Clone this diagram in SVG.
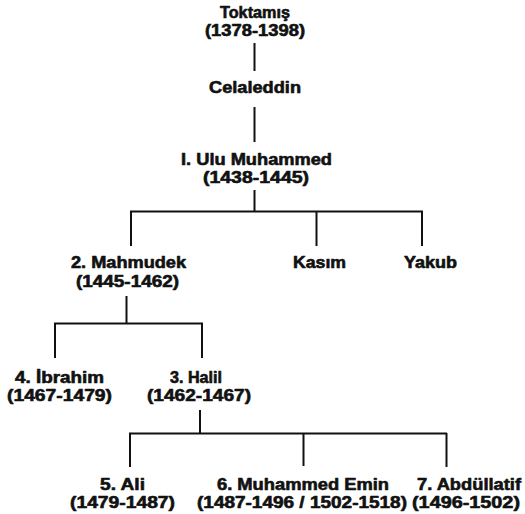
<svg xmlns="http://www.w3.org/2000/svg" width="525" height="514" viewBox="0 0 525 514">
<style>
text{font-family:"Liberation Sans",Arial,sans-serif;font-weight:bold;font-size:16px;fill:#111;stroke:#111;stroke-width:0.6;stroke-linejoin:round;text-anchor:middle}
.c line{stroke:#111;stroke-width:2}
</style>
<rect width="525" height="514" fill="#fff"/>
<g class="c" id="connectors">
<line x1="254.5" y1="43" x2="254.5" y2="71"/>
<line x1="254.5" y1="107" x2="254.5" y2="142"/>
<line x1="254.5" y1="190" x2="254.5" y2="211"/>
<line x1="130" y1="211.5" x2="423" y2="211.5"/>
<line x1="131" y1="211" x2="131" y2="246"/>
<line x1="316.5" y1="211" x2="316.5" y2="246"/>
<line x1="422" y1="211" x2="422" y2="246"/>
<line x1="126.5" y1="296" x2="126.5" y2="323"/>
<line x1="54" y1="323.5" x2="203" y2="323.5"/>
<line x1="55" y1="323" x2="55" y2="358"/>
<line x1="202" y1="323" x2="202" y2="358"/>
<line x1="200" y1="410" x2="200" y2="433"/>
<line x1="129" y1="433.5" x2="447" y2="433.5"/>
<line x1="130" y1="433" x2="130" y2="467"/>
<line x1="303.5" y1="434" x2="303.5" y2="466"/>
<line x1="446.5" y1="433" x2="446.5" y2="467"/>
</g>
<g id="toktamis"><text x="255" y="17.5" textLength="70" lengthAdjust="spacingAndGlyphs">Toktamış</text><text x="255" y="35.5" textLength="100" lengthAdjust="spacingAndGlyphs">(1378-1398)</text></g>
<g id="celaleddin"><text x="255" y="93" textLength="92" lengthAdjust="spacingAndGlyphs">Celaleddin</text></g>
<g id="ulu-muhammed"><text x="256.5" y="164.5" textLength="151" lengthAdjust="spacingAndGlyphs">I. Ulu Muhammed</text><text x="256" y="182.5" textLength="106" lengthAdjust="spacingAndGlyphs">(1438-1445)</text></g>
<g id="mahmudek"><text x="128.5" y="268" textLength="115" lengthAdjust="spacingAndGlyphs">2. Mahmudek</text><text x="127.5" y="287" textLength="103" lengthAdjust="spacingAndGlyphs">(1445-1462)</text></g>
<g id="kasim"><text x="319.5" y="268" textLength="53" lengthAdjust="spacingAndGlyphs">Kasım</text></g>
<g id="yakub"><text x="430.5" y="268" textLength="53" lengthAdjust="spacingAndGlyphs">Yakub</text></g>
<g id="ibrahim"><text x="59.5" y="382.5" textLength="89" lengthAdjust="spacingAndGlyphs">4. İbrahim</text><text x="59.5" y="400.5" textLength="105" lengthAdjust="spacingAndGlyphs">(1467-1479)</text></g>
<g id="halil"><text x="196" y="382.5" textLength="52" lengthAdjust="spacingAndGlyphs">3. Halil</text><text x="199" y="400.5" textLength="104" lengthAdjust="spacingAndGlyphs">(1462-1467)</text></g>
<g id="ali"><text x="122.5" y="489.5" textLength="45" lengthAdjust="spacingAndGlyphs">5. Ali</text><text x="122.5" y="508" textLength="105" lengthAdjust="spacingAndGlyphs">(1479-1487)</text></g>
<g id="muhammed-emin"><text x="303" y="489.5" textLength="172" lengthAdjust="spacingAndGlyphs">6. Muhammed Emin</text><text x="302" y="508" textLength="210" lengthAdjust="spacingAndGlyphs">(1487-1496 / 1502-1518)</text></g>
<g id="abdullatif"><text x="469" y="489.5" textLength="104" lengthAdjust="spacingAndGlyphs">7. Abdüllatif</text><text x="466" y="508" textLength="108" lengthAdjust="spacingAndGlyphs">(1496-1502)</text></g>
</svg>
